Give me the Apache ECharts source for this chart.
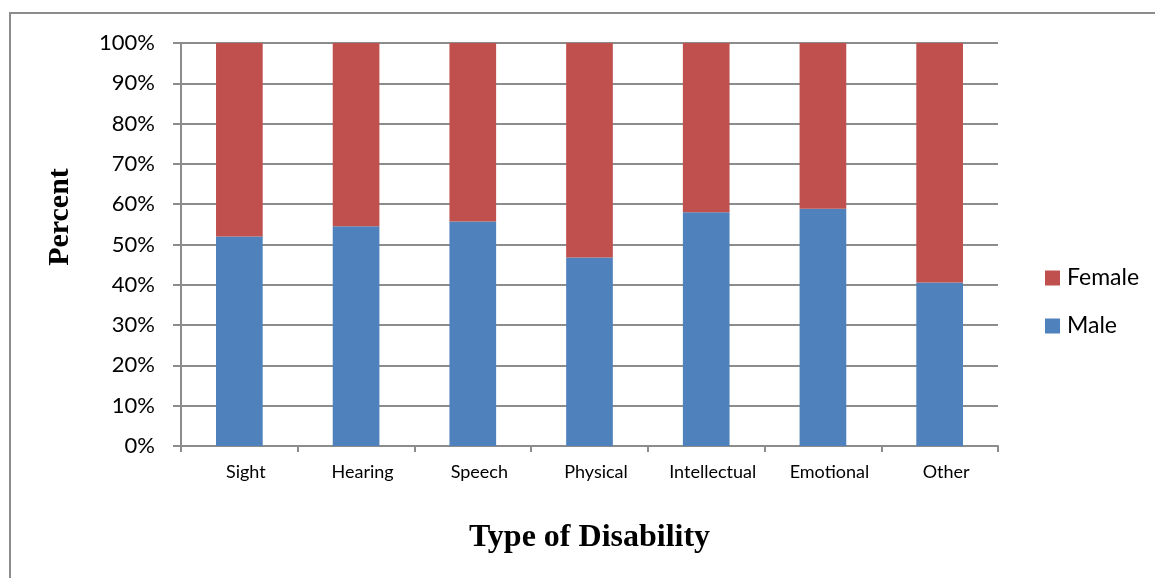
<!DOCTYPE html>
<html>
<head>
<meta charset="utf-8">
<script src="https://cdn.jsdelivr.net/npm/echarts@6/dist/echarts.min.js"></script>
<style>
  html, body { margin: 0; padding: 0; background: #fff; }
  #chart { width: 1155px; height: 578px; }
</style>
</head>
<body>
<div id="chart"></div>
<script>
// Share of each disability type by sex (percent)
const categories = ['Sight', 'Hearing', 'Speech', 'Physical', 'Intellectual', 'Emotional', 'Other'];
const male = [52.0, 54.5, 55.7, 46.8, 58.0, 58.9, 40.6];
const female = male.map(v => +(100 - v).toFixed(1));

const chart = echarts.init(document.getElementById('chart'));
const gridColor = '#8c8c8c';
const labelFont = 'Lato, "Open Sans", sans-serif';
const titleFont = '"Liberation Serif", "Times New Roman", serif';

chart.setOption({
  animation: false,
  graphic: [
    {
      type: 'rect',
      shape: { x: 10, y: 13, width: 1160, height: 600 },
      style: { fill: 'none', stroke: '#8c8c8c', lineWidth: 2 },
      silent: true
    },
    {
      // vertical axis title
      type: 'text',
      x: 60,
      y: 217,
      rotation: Math.PI / 2,
      style: {
        text: 'Percent',
        font: 'bold 30px ' + titleFont,
        fill: '#000',
        align: 'center',
        verticalAlign: 'middle'
      },
      silent: true
    }
  ],
  grid: { left: 181, right: 157, top: 43, bottom: 132 },
  legend: {
    orient: 'vertical',
    left: 1040,
    top: 261,
    itemWidth: 15,
    itemHeight: 15,
    itemGap: 24,
    icon: 'rect',
    data: ['Female', 'Male'],
    textStyle: { fontFamily: labelFont, fontSize: 23, lineHeight: 24, color: '#000', padding: [0, 0, 0, 2] }
  },
  xAxis: {
    type: 'category',
    data: categories,
    name: 'Type of Disability',
    nameLocation: 'middle',
    nameGap: 76,
    nameTextStyle: { fontFamily: titleFont, fontWeight: 'bold', fontSize: 32, color: '#000' },
    axisLine: { lineStyle: { color: gridColor, width: 2 } },
    axisTick: { show: true, length: 6, lineStyle: { color: gridColor, width: 2 } },
    axisLabel: { interval: 0, fontFamily: labelFont, fontSize: 18, color: '#000', margin: 17, padding: [0, 0, 0, 13] }
  },
  yAxis: {
    type: 'value',
    min: 0,
    max: 100,
    interval: 10,
    axisLine: { show: true, lineStyle: { color: gridColor, width: 2 } },
    axisTick: { show: true, inside: false, length: 8, lineStyle: { color: gridColor, width: 2 } },
    axisLabel: { fontFamily: labelFont, fontSize: 22, color: '#000', margin: 26, formatter: '{value}%' },
    splitLine: { lineStyle: { color: gridColor, width: 2 } }
  },
  series: [
    {
      name: 'Male',
      type: 'bar',
      stack: 'total',
      data: male,
      barCategoryGap: '60%',
      itemStyle: { color: '#4f81bd' }
    },
    {
      name: 'Female',
      type: 'bar',
      stack: 'total',
      data: female,
      barCategoryGap: '60%',
      itemStyle: { color: '#c0504d' }
    }
  ]
});
</script>
</body>
</html>
